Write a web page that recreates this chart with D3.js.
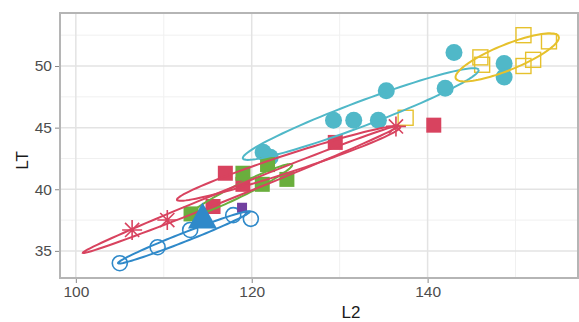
<!DOCTYPE html>
<html>
<head>
<meta charset="utf-8">
<script src="https://cdn.jsdelivr.net/npm/d3@7"></script>
<style>
  body { margin: 0; background: #fff; }
  text { font-family: "Liberation Sans", Arial, sans-serif; }
</style>
</head>
<body>
<div id="chart"></div>
<script>
var width = 579;
var height = 322;
var margin = {top: 13, right: 1, bottom: 44, left: 60};

// tick values
var xTicks = [100, 120, 140];
var yTicks = [35, 40, 45, 50];
var xMinor = [110, 130, 150];
var yMinor = [37.5, 42.5, 47.5, 52.5];

// points per group: [L2, LT]
var redStar = [[106.4, 36.7], [110.4, 37.5], [136.4, 45.1]];
var redSquare = [[117.0, 41.3], [119.0, 40.4], [115.6, 38.6], [129.5, 43.8], [140.7, 45.2]];
var greenSquare = [[119.0, 41.3], [121.8, 42.0], [121.2, 40.4], [124.0, 40.8], [113.1, 38.0]];
var tealCircle = [[121.3, 43.0], [122.1, 42.6], [129.3, 45.6], [131.6, 45.6], [134.4, 45.6],
                  [135.3, 48.0], [142.0, 48.2], [143.0, 51.1], [148.7, 50.2], [148.7, 49.1]];
var yellowSquare = [[146.0, 50.7], [146.2, 50.1], [150.9, 52.5], [153.8, 52.0],
                    [152.0, 50.5], [150.9, 50.0], [137.5, 45.8]];
var blueCircle = [[105.0, 34.0], [109.3, 35.3], [113.0, 36.7], [117.9, 37.9], [119.9, 37.6]];
var blueTriangle = [[114.4, 37.75]];
var purplePoint = [[118.9, 38.5]];

// ellipses: major axis end points [x1, y1, x2, y2] and semi minor (L2 units)
var ellRed1 = [100.8, 34.84, 136.7, 45.14, 0.57];
var ellRed2 = [111.5, 39.14, 136.9, 45.06, 1.0];
var ellGreen = [113.0, 37.9, 124.6, 42.0, 0.7];
var ellBlue = [104.8, 34.0, 119.8, 38.2, 0.5];
var ellTeal = [119.0, 42.5, 145.8, 49.7, 1.4];
var ellYellow = [143.2, 49.0, 154.9, 52.4, 1.45];

var red = '#d8435f', green = '#6aae3d', teal = '#50b8c8', yellow = '#e6c12c',
    blue = '#2f89c9', purple = '#7140a0';

var svg = d3.select('#chart').append('svg')
    .attr('width', width)
    .attr('height', height);

var x = d3.scaleLinear().domain([98.2, 157.1])
    .range([margin.left, width - margin.right]);
var y = d3.scaleLinear().domain([32.8, 54.3])
    .range([height - margin.bottom, margin.top]);

var pw = width - margin.right - margin.left;
var ph = height - margin.bottom - margin.top;

// grid
var grid = svg.append('g');
grid.selectAll('.vmin').data(xMinor).enter().append('line')
    .attr('x1', d => x(d)).attr('x2', d => x(d))
    .attr('y1', margin.top).attr('y2', margin.top + ph)
    .attr('stroke', '#f0f0f0').attr('stroke-width', 1);
grid.selectAll('.hmin').data(yMinor).enter().append('line')
    .attr('y1', d => y(d)).attr('y2', d => y(d))
    .attr('x1', margin.left).attr('x2', margin.left + pw)
    .attr('stroke', '#f0f0f0').attr('stroke-width', 1);
grid.selectAll('.vmaj').data(xTicks).enter().append('line')
    .attr('x1', d => x(d)).attr('x2', d => x(d))
    .attr('y1', margin.top).attr('y2', margin.top + ph)
    .attr('stroke', '#e3e3e3').attr('stroke-width', 1.5);
grid.selectAll('.hmaj').data(yTicks).enter().append('line')
    .attr('y1', d => y(d)).attr('y2', d => y(d))
    .attr('x1', margin.left).attr('x2', margin.left + pw)
    .attr('stroke', '#e3e3e3').attr('stroke-width', 1.5);

// points
function pts(data, shape, color, size, filled) {
    var g = svg.append('g');
    if (shape === 'circle') {
        g.selectAll('circle').data(data).enter().append('circle')
            .attr('cx', d => x(d[0])).attr('cy', d => y(d[1])).attr('r', size)
            .attr('fill', filled ? color : 'none')
            .attr('stroke', color).attr('stroke-width', filled ? 0 : 1.6);
    } else if (shape === 'square') {
        g.selectAll('rect').data(data).enter().append('rect')
            .attr('x', d => x(d[0]) - size).attr('y', d => y(d[1]) - size)
            .attr('width', size * 2).attr('height', size * 2)
            .attr('fill', filled ? color : 'none')
            .attr('stroke', color).attr('stroke-width', filled ? 0 : 1.4);
    } else if (shape === 'triangle') {
        g.selectAll('path').data(data).enter().append('path')
            .attr('d', d => {
                var cx = x(d[0]), cy = y(d[1]);
                return 'M' + cx + ',' + (cy - size) + 'L' + (cx + size * 1.0) + ',' + (cy + size * 0.8) +
                    'L' + (cx - size * 1.0) + ',' + (cy + size * 0.8) + 'Z';
            })
            .attr('fill', color);
    } else if (shape === 'star') {
        g.selectAll('path').data(data).enter().append('path')
            .attr('d', d => {
                var cx = x(d[0]), cy = y(d[1]), s = '';
                for (var k = 0; k < 4; k++) {
                    var a = k * Math.PI / 4;
                    var dx = Math.cos(a) * size, dy = Math.sin(a) * size;
                    s += 'M' + (cx - dx) + ',' + (cy - dy) + 'L' + (cx + dx) + ',' + (cy + dy);
                }
                return s;
            })
            .attr('stroke', color).attr('stroke-width', 1.6).attr('fill', 'none');
    }
}

pts(tealCircle, 'circle', teal, 8.5, true);
pts(yellowSquare, 'square', yellow, 7.5, false);
pts(redSquare, 'square', red, 7.5, true);
pts(greenSquare, 'square', green, 7.5, true);
pts(blueCircle, 'circle', blue, 7.5, false);
pts(purplePoint, 'square', purple, 5, true);
pts(redStar, 'star', red, 10, false);

// ellipses
var kx = x(1) - x(0);
function ellipse(e, color) {
    var p1 = [x(e[0]), y(e[1])], p2 = [x(e[2]), y(e[3])];
    var c = [(p1[0] + p2[0]) / 2, (p1[1] + p2[1]) / 2];
    var a = [(p2[0] - p1[0]) / 2, (p2[1] - p1[1]) / 2];
    var len = Math.hypot(a[0], a[1]);
    var b = e[4] * kx;
    var n = [-a[1] / len * b, a[0] / len * b];
    var ring = d3.range(0, 101).map(i => {
        var t = i / 100 * 2 * Math.PI;
        return [c[0] + a[0] * Math.cos(t) + n[0] * Math.sin(t),
                c[1] + a[1] * Math.cos(t) + n[1] * Math.sin(t)];
    });
    svg.append('path').attr('d', d3.line()(ring))
        .attr('fill', 'none').attr('stroke', color).attr('stroke-width', 2);
}
ellipse(ellBlue, blue);
ellipse(ellGreen, green);
ellipse(ellRed1, red);
ellipse(ellRed2, red);
ellipse(ellTeal, teal);
ellipse(ellYellow, yellow);

// the big triangle sits on top
pts(blueTriangle, 'triangle', blue, 14.5, true);

// panel border
svg.append('rect')
    .attr('x', margin.left).attr('y', margin.top)
    .attr('width', pw).attr('height', ph)
    .attr('fill', 'none').attr('stroke', '#b5b5b5').attr('stroke-width', 2);

// axes
var xAxis = svg.append('g')
    .attr('transform', `translate(0, ${margin.top + ph + 1})`)
    .call(d3.axisBottom(x).tickValues(xTicks).tickSize(4).tickPadding(3));
var yAxis = svg.append('g')
    .attr('transform', `translate(${margin.left - 1}, 0)`)
    .call(d3.axisLeft(y).tickValues(yTicks).tickSize(4).tickPadding(3));
[xAxis, yAxis].forEach(ax => {
    ax.select('.domain').remove();
    ax.selectAll('line').attr('stroke', '#888');
    ax.selectAll('text').attr('fill', '#4d4d4d').style('font-size', '15.5px');
});

svg.append('text')
    .attr('x', margin.left + pw / 2 + 32).attr('y', 318)
    .attr('text-anchor', 'middle').attr('fill', '#1a1a1a')
    .style('font-size', '17px').text('L2');
svg.append('text')
    .attr('transform', `translate(28, ${margin.top + ph / 2 + 15}) rotate(-90)`)
    .attr('text-anchor', 'middle').attr('fill', '#1a1a1a')
    .style('font-size', '17px').text('LT');
</script>
</body>
</html>
